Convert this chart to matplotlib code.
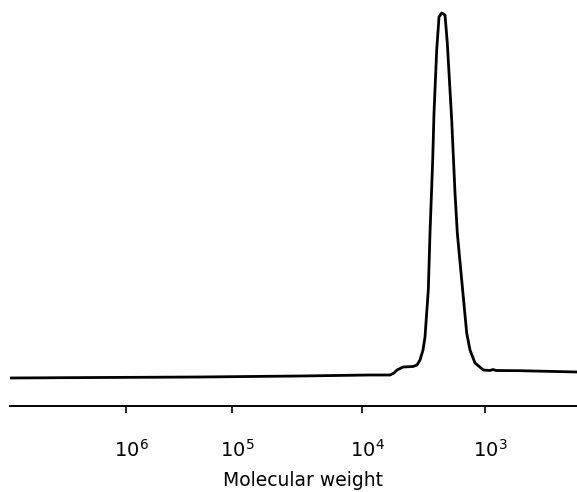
import matplotlib
matplotlib.use("Agg")
import matplotlib.pyplot as plt
import matplotlib.transforms as mtransforms

# elution position (arbitrary units, left = high MW) and detector signal
pos = [8, 100, 200, 300, 370, 390, 394, 397, 403, 413, 417, 420, 423, 425,
       428.3, 430, 432.7, 434, 436.7, 439, 441.7, 445, 447.3, 451.7, 455,
       457.3, 461.7, 466.7, 470, 475, 483.3, 490, 493, 496, 520, 577]
signal = [28, 28.5, 29, 30, 31, 31, 33, 36, 39, 39.5, 41, 46, 56, 69,
          116, 173, 246, 293, 356, 389, 393, 391, 363, 286, 213,
          173, 126, 73, 56, 43, 36, 35.5, 36.5, 35.5, 35.3, 34]

# calibration: position of each molecular weight decade on the axis
mw_pos = [126, 232, 362, 485]
mw_labels = ["$10^{6}$", "$10^{5}$", "$10^{4}$", "$10^{3}$"]

fig = plt.figure(figsize=(5.77, 4.92), dpi=100)
ax = fig.add_axes([10/577, 86/492, 567/577, 406/492])

ax.plot(pos, signal, color='black', lw=2.0, solid_joinstyle='round')
ax.set_xlim(10, 577)
ax.set_ylim(0, 406)

for s in ['left', 'right', 'top']:
    ax.spines[s].set_visible(False)
ax.spines['bottom'].set_linewidth(1.4)
ax.set_yticks([])
ax.set_xticks(mw_pos)
ax.set_xticklabels(mw_labels, fontsize=14)
ax.tick_params(axis='x', direction='out', length=5, width=1.2, pad=19)
offset = mtransforms.ScaledTranslation(5/100, 0, fig.dpi_scale_trans)
for lab in ax.get_xticklabels():
    lab.set_transform(lab.get_transform() + offset)
ax.set_xlabel("Molecular weight", fontsize=13.5)
ax.xaxis.set_label_coords((303 - 10) / 567, -75 / 406)
ax.xaxis.label.set_va('center')

fig.savefig("out.png", dpi=100)
